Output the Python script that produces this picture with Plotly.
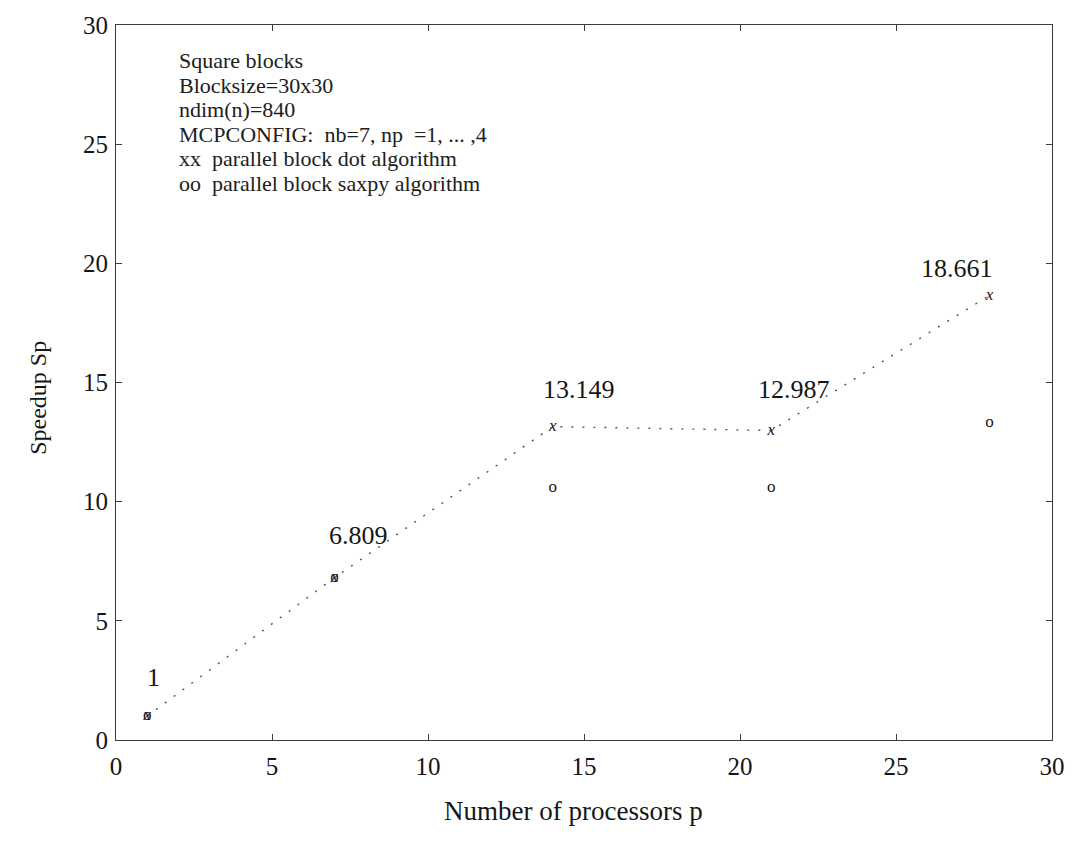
import plotly.graph_objects as go

# Measured speedups for the 840x840 problem, 30x30 square blocks
processors = [1, 7, 14, 21, 28]
speedup_dot = [1, 6.809, 13.149, 12.987, 18.661]
speedup_saxpy = [1, 6.8, 10.6, 10.6, 13.3]

tick_values = [0, 5, 10, 15, 20, 25, 30]

note_lines = [
    "Square blocks",
    "Blocksize=30x30",
    "ndim(n)=840",
    "MCPCONFIG:  nb=7, np  =1, ... ,4",
    "xx  parallel block dot algorithm",
    "oo  parallel block saxpy algorithm",
]

# pixel offsets of each value label from its point
label_shift = [(6, 39), (24, 42), (26, 37), (23, 41), (-33, 27)]

SERIF = "Liberation Serif, Times New Roman, serif"
INK = "#161616"
FRAME = "#3c3c3c"

fig = go.Figure()

# dotted polyline through the block-dot results
fig.add_trace(go.Scatter(
    x=processors, y=speedup_dot, mode="lines",
    line=dict(color="#555555", width=1.4, dash="2px,9px"),
    hoverinfo="skip", showlegend=False,
))

# point glyphs: 'x' for block dot, 'o' for block saxpy
fig.add_trace(go.Scatter(
    x=processors, y=speedup_dot, mode="text", text=["x"] * len(processors),
    textfont=dict(family=SERIF, size=17, color=INK, style="italic"),
    textposition="middle center", showlegend=False,
))
fig.add_trace(go.Scatter(
    x=processors, y=speedup_saxpy, mode="text", text=["o"] * len(processors),
    textfont=dict(family=SERIF, size=17, color=INK),
    textposition="middle center", showlegend=False,
))

# value labels above the block-dot points
for p, s, (dx, dy) in zip(processors, speedup_dot, label_shift):
    fig.add_annotation(
        x=p, y=s, text=f"{s:g}", showarrow=False,
        xshift=dx, yshift=dy,
        font=dict(family=SERIF, size=26, color=INK),
    )

# description block in the upper-left corner, one annotation per line
note_top, note_step = 28.51, 1.03
for i, line in enumerate(note_lines):
    fig.add_annotation(
        x=1.95, y=note_top - i * note_step, text=line, showarrow=False,
        xanchor="left", yanchor="middle",
        font=dict(family=SERIF, size=22, color="#202020"),
    )

# axis titles
fig.add_annotation(
    x=0.4888, y=-0.1226, xref="paper", yref="paper",
    text="Number of processors p", showarrow=False,
    font=dict(family=SERIF, size=27, color=INK),
)
fig.add_annotation(
    x=-0.1001, y=0.479, xref="paper", yref="paper",
    text="Speedup Sp", showarrow=False, textangle=-90,
    font=dict(family=SERIF, size=24, color=INK),
)

axis_style = dict(
    range=[0, 30], tickvals=tick_values, ticktext=[str(v) for v in tick_values],
    showgrid=False, zeroline=False, showline=True, linecolor=FRAME, linewidth=1.2,
    mirror="ticks", ticks="inside", ticklen=6, tickwidth=1.2, tickcolor=FRAME,
    tickfont=dict(family=SERIF, size=25, color=INK),
)

fig.update_layout(
    width=1077, height=846,
    margin=dict(l=116, r=22, t=14, b=106),
    paper_bgcolor="white", plot_bgcolor="white",
    xaxis=dict(**axis_style, ticklabelstandoff=4),
    yaxis=dict(**axis_style, ticklabelstandoff=2),
    showlegend=False,
)

fig.write_html("out.html")
